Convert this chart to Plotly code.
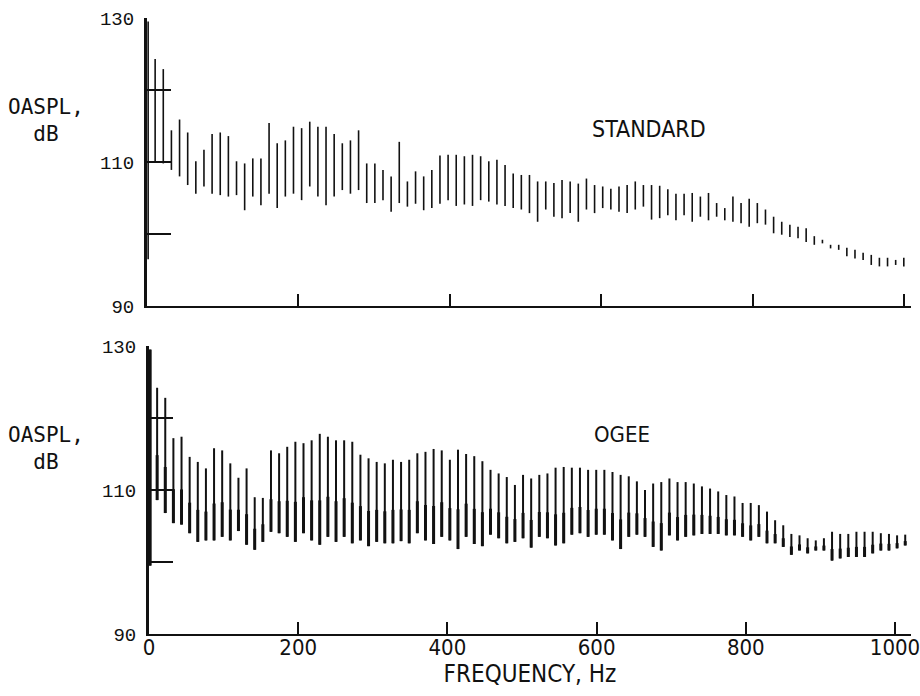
import numpy as np
import plotly.graph_objects as go

# Narrowband spectra: each harmonic of the blade-passing fundamental is drawn
# as a vertical stroke from its trough level up to its peak level (dB).
STD_FUNDAMENTAL_HZ = 10.75
OGEE_FUNDAMENTAL_HZ = 10.9

std_peak = [
    124.3, 122.9, 114.4, 115.9, 114.1, 110.1, 111.7, 113.9, 114.1, 113.6,
    110.1, 109.8, 110.5, 110.5, 115.4, 112.6, 113.0, 114.9, 114.7, 115.6,
    114.9, 114.9, 113.9, 112.6, 113.0, 114.4, 109.8, 109.8, 108.9, 108.0,
    112.8, 107.3, 108.7, 108.0, 108.9, 110.9, 111.0, 111.0, 110.8, 111.0,
    110.8, 110.1, 110.3, 109.6, 108.4, 108.2, 108.2, 107.3, 107.3, 107.1,
    107.5, 107.3, 107.0, 107.7, 106.8, 106.6, 106.3, 106.6, 106.8, 107.3,
    106.8, 106.8, 106.7, 106.2, 105.6, 105.6, 105.7, 105.2, 105.7, 104.3,
    103.6, 105.2, 104.3, 104.9, 104.3, 103.4, 102.4, 101.7, 101.3, 101.0,
    100.8, 99.7, 99.2, 98.5, 98.5, 98.1, 97.8, 97.4, 97.1, 96.7,
    96.7, 96.4, 96.7,
]
std_trough = [
    110.0, 109.8, 108.9, 108.0, 106.8, 105.6, 106.6, 105.6, 105.4, 105.2,
    105.4, 103.3, 105.2, 104.0, 105.6, 103.6, 105.2, 105.6, 104.7, 106.6,
    105.2, 104.0, 105.2, 106.1, 105.6, 106.1, 104.3, 104.3, 104.7, 103.1,
    104.3, 103.8, 104.2, 103.3, 103.6, 104.2, 104.7, 103.9, 104.1, 103.9,
    104.7, 104.5, 104.1, 103.9, 103.6, 103.4, 102.9, 101.7, 103.4, 102.4,
    102.2, 102.9, 101.7, 103.4, 102.9, 103.6, 103.4, 103.1, 102.9, 103.4,
    103.8, 102.0, 102.2, 102.6, 101.9, 102.6, 101.7, 102.4, 101.9, 102.4,
    101.9, 101.7, 101.5, 101.0, 101.5, 101.3, 100.1, 99.9, 99.6, 99.4,
    98.9, 98.5, 98.7, 98.0, 97.8, 96.9, 96.6, 96.4, 95.7, 95.5,
    95.5, 95.7, 95.5,
]

ogee_peak = [
    124.2, 122.8, 117.2, 117.4, 114.6, 113.9, 113.0, 115.8, 115.5, 113.7,
    111.7, 113.0, 109.0, 108.9, 115.5, 115.1, 116.0, 116.7, 116.5, 116.9,
    117.8, 117.4, 116.9, 116.9, 116.7, 114.9, 114.4, 113.9, 113.7, 114.2,
    113.9, 114.2, 115.1, 115.3, 115.7, 115.5, 114.2, 115.6, 115.0, 114.7,
    114.0, 112.8, 112.3, 111.8, 110.7, 112.1, 111.6, 112.1, 112.3, 113.1,
    113.2, 113.1, 113.1, 112.8, 112.8, 112.8, 112.5, 112.1, 111.9, 111.2,
    110.0, 110.9, 111.1, 111.6, 111.1, 111.1, 110.9, 110.5, 110.2, 109.8,
    109.3, 109.1, 108.2, 108.2, 107.9, 107.0, 105.8, 105.1, 103.9, 103.7,
    103.3, 103.0, 103.3, 104.2, 103.9, 103.9, 104.2, 104.2, 104.2, 104.0,
    103.9, 103.7, 103.8,
]
ogee_trough = [
    108.6, 106.8, 105.4, 105.2, 104.0, 102.8, 103.0, 103.0, 103.5, 103.0,
    104.3, 102.4, 101.7, 102.8, 104.2, 104.0, 103.5, 102.8, 104.0, 103.0,
    102.4, 103.5, 102.8, 103.5, 102.6, 103.0, 102.2, 102.8, 102.6, 102.6,
    102.9, 102.6, 104.0, 103.0, 102.5, 103.5, 103.0, 101.8, 103.5, 102.5,
    102.2, 103.8, 103.3, 102.6, 102.8, 103.3, 102.0, 103.5, 103.3, 102.3,
    102.6, 103.8, 104.0, 103.5, 103.8, 103.8, 103.0, 101.8, 103.5, 103.8,
    103.5, 102.1, 101.6, 103.7, 103.0, 103.5, 103.7, 103.9, 103.9, 103.9,
    103.7, 103.7, 103.5, 103.0, 103.5, 102.6, 102.6, 102.1, 101.0, 101.6,
    101.2, 101.6, 101.6, 100.2, 100.5, 100.7, 100.7, 100.7, 101.2, 101.6,
    101.6, 101.9, 102.3,
]

# Low-frequency transient right at the origin: (Hz, bottom dB, top dB)
std_origin_spike = (1.5, 96.5, 129.5)
ogee_origin_spike = (1.5, 99.5, 129.5)

y_tickvals = [90, 100, 110, 120, 130]
y_ticktext = ["90", "", "110", "", "130"]
x_tickvals = [0, 200, 400, 600, 800, 1000]
x_ticktext = ["0", "200", "400", "600", "800", "1000"]


def spike_path(peak, trough, origin, f0, frac=1.0):
    """Vertical strokes from trough up to trough + frac * (peak - trough)."""
    freqs = f0 * np.arange(1, len(peak) + 1)
    xs = [origin[0], origin[0], None]
    ys = [origin[1], origin[2], None]
    for f, hi, lo in zip(freqs, peak, trough):
        xs += [f, f, None]
        ys += [lo, lo + frac * (hi - lo), None]
    return xs, ys


def add_spectrum(fig, peak, trough, origin, f0, xa, ya, width, base_width=None):
    x, y = spike_path(peak, trough, origin, f0)
    fig.add_trace(go.Scatter(x=x, y=y, mode="lines", xaxis=xa, yaxis=ya,
                             line=dict(color="#111", width=width),
                             showlegend=False, hoverinfo="skip"))
    if base_width:
        # heavier ink toward the bottom of each stroke
        x, y = spike_path(peak, trough, origin, f0, frac=0.4)
        fig.add_trace(go.Scatter(x=x, y=y, mode="lines", xaxis=xa, yaxis=ya,
                                 line=dict(color="#111", width=base_width),
                                 showlegend=False, hoverinfo="skip"))


fig = go.Figure()
add_spectrum(fig, std_peak, std_trough, std_origin_spike, STD_FUNDAMENTAL_HZ,
             "x", "y", 1.6)
add_spectrum(fig, ogee_peak, ogee_trough, ogee_origin_spike, OGEE_FUNDAMENTAL_HZ,
             "x2", "y2", 2.0, 3.0)

W, H = 920, 696
# upper panel: 0 Hz at 147 px, 0.757 px/Hz; lower panel: 0 Hz at 149 px, 0.746 px/Hz
top_x_dom = [147 / W, 911 / W]
top_x_range = [0, (911 - 147) / 0.757]
bot_x_dom = [149 / W, 911 / W]
bot_x_range = [0, (911 - 149) / 0.746]
top_dom = [1 - 306 / H, 1 - 18 / H]
bot_dom = [1 - 634 / H, 1 - 346 / H]

serif_font = dict(family="Liberation Mono, Courier New, monospace", size=19, color="#111")
narrow_font = dict(family="DejaVu Sans Condensed, Liberation Sans Narrow, sans-serif",
                   size=24, color="#111")
tick_font = dict(narrow_font, size=22)
label_font = dict(family="DejaVu Sans Mono, Liberation Mono, monospace", size=21, color="#111")

common_x = dict(showgrid=False, zeroline=False,
                automargin=False, showline=True, linecolor="#111", linewidth=1.5,
                ticks="inside", ticklen=12, tickwidth=1.5, tickcolor="#111",
                tickvals=x_tickvals, ticktext=x_ticktext, tickfont=tick_font,
                ticklabeloverflow="allow")
common_y = dict(range=[90, 130], showgrid=False, zeroline=False, automargin=False,
                showline=True, linecolor="#111", linewidth=3,
                ticks="inside", ticklen=24, tickwidth=1.5, tickcolor="#111",
                tickvals=y_tickvals, ticktext=y_ticktext, tickfont=serif_font,
                ticklabelstandoff=6, ticklabeloverflow="allow")


def text_note(text, x, y, font, anchor="center"):
    return dict(text=text, x=x / W, y=1 - y / H, xref="paper", yref="paper",
                xanchor=anchor, yanchor="middle", showarrow=False,
                font=font, align="center")


fig.update_layout(
    width=W, height=H,
    margin=dict(l=0, r=0, t=0, b=0, autoexpand=False),
    paper_bgcolor="white", plot_bgcolor="white",
    xaxis=dict(common_x, domain=top_x_dom, range=top_x_range,
               anchor="y", showticklabels=False),
    yaxis=dict(common_y, domain=top_dom, anchor="x"),
    xaxis2=dict(common_x, domain=bot_x_dom, range=bot_x_range,
                anchor="y2", showticklabels=True, ticklabelstandoff=-7,
                title=dict(text="FREQUENCY, Hz", font=narrow_font, standoff=6)),
    yaxis2=dict(common_y, domain=bot_dom, anchor="x2"),
    annotations=[
        text_note("OASPL,<br>dB", 46, 120, label_font),
        text_note("OASPL,<br>dB", 46, 449, label_font),
        text_note("STANDARD", 590, 129, dict(narrow_font, size=23), anchor="left"),
        text_note("OGEE", 592, 434, dict(narrow_font, size=22), anchor="left"),
    ],
)

fig.write_html("out.html")
